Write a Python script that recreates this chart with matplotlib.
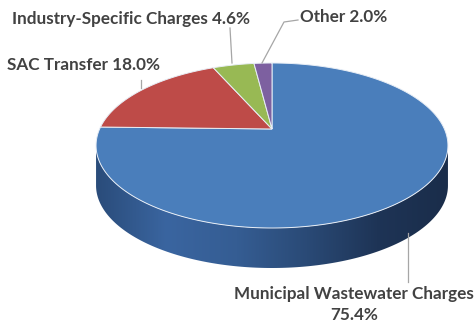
import numpy as np
import matplotlib
matplotlib.use("Agg")
from matplotlib import pyplot as plt
from matplotlib.colors import LinearSegmentedColormap
from matplotlib.patches import Polygon
from matplotlib.path import Path
from matplotlib.transforms import Transform


labels = ["Municipal Wastewater Charges", "SAC Transfer", "Industry-Specific Charges", "Other"]
shares = [75.4, 18.0, 4.6, 2.0]
colors = ["#4A7EBB", "#BE4B48", "#98B954", "#7D60A0"]

W, H = 476, 326
cx, cy = 272, H - 129   # where the slices meet
a, b, k = 172.4, 79.2, 0.2   # tilt of the disc
depth = 40


class Tilt(Transform):
    """maps the unit pie onto a disc seen from above and in front"""
    input_dims = output_dims = 2
    is_separable = False

    def transform_non_affine(self, xy):
        xy = np.asarray(xy, float)
        d = 1 + k * xy[:, 1]
        return np.column_stack([cx + a * xy[:, 0] / d, cy + b * xy[:, 1] / d])

    def transform_path_non_affine(self, path):
        pts = [seg(np.linspace(0, 1, 24)) for seg, code in path.iter_bezier()]
        return Path(self.transform_non_affine(np.vstack(pts)), closed=True)


tilt = Tilt()
fig = plt.figure(figsize=(W / 100, H / 100), dpi=100)
ax = fig.add_axes([0, 0, 1, 1])

# side wall, only the front part shows
t = np.linspace(np.pi + np.arcsin(k), 2 * np.pi - np.arcsin(k), 200)
rim = tilt.transform_non_affine(np.column_stack([np.cos(t), np.sin(t)]))
side = Polygon(np.vstack([rim, rim[::-1] - [0, depth]]), closed=True,
               facecolor="none", edgecolor="none")
ax.add_patch(side)
shade = LinearSegmentedColormap.from_list(
    "side", ["#2A4C7A", "#3A65A0", "#355D93", "#2A4A76", "#1E3456", "#1A2D4A"])
grad = np.linspace(0, 1, 256).reshape(1, -1)
img = ax.imshow(grad, cmap=shade, aspect="auto",
                extent=(rim[:, 0].min(), rim[:, 0].max(), rim[:, 1].min() - depth, cy),
                zorder=1)
img.set_clip_path(side)

# top face
wedges, _ = ax.pie(shares, colors=colors, startangle=90, counterclock=False,
                   center=(0, 0), radius=1,
                   wedgeprops=dict(edgecolor="#E8EEF6", linewidth=0.7))
for w in wedges:
    w.set_transform(tilt + ax.transData)
    w.set_zorder(2)

ax.set_xlim(0, W)
ax.set_ylim(0, H)
ax.set_aspect("auto")
ax.axis("off")

txt = dict(fontsize=12.3, fontweight="bold", color="#424242", family="Lato")

# leader lines
line = dict(color="#A6A6A6", linewidth=0.9)
ax.plot([408, 408], [H - 233, H - 282], **line)
ax.plot([141, 141], [H - 80, H - 88], **line)
ax.plot([232, 230], [H - 63, H - 28], **line)
ax.plot([262, 284, 298], [H - 63, H - 22, H - 20], **line)

ax.text(354, H - 294, labels[0], ha="center", va="center", **txt)
ax.text(354, H - 315, f"{shares[0]:.1f}%", ha="center", va="center", **txt)
ax.text(7, H - 65, f"{labels[1]} {shares[1]:.1f}%", ha="left", va="center", **txt)
ax.text(12, H - 19, f"{labels[2]} {shares[2]:.1f}%", ha="left", va="center", **txt)
ax.text(300, H - 17, f"{labels[3]} {shares[3]:.1f}%", ha="left", va="center", **txt)

fig.savefig("out.png", dpi=100)
